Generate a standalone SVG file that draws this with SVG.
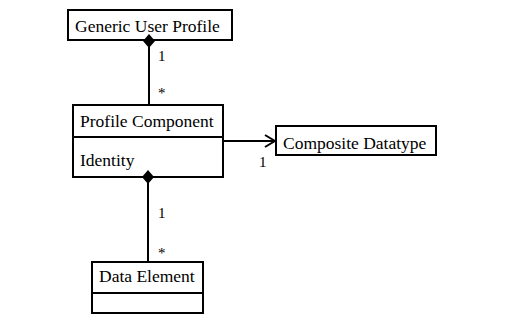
<svg xmlns="http://www.w3.org/2000/svg" width="530" height="327" viewBox="0 0 530 327">
<style>
.box{fill:#fff;stroke:#000;stroke-width:2}
text{font-family:'Liberation Serif','Times New Roman','DejaVu Serif',serif;fill:#000}
.t{font-size:17.5px}
.lbl{font-size:15px}
.ln{stroke:#000;stroke-width:2;fill:none}
.dia{fill:#000;stroke:none}
</style>
<defs>
<marker id="open" markerWidth="12" markerHeight="14" refX="11" refY="7" orient="auto" markerUnits="userSpaceOnUse">
<path d="M1,1 L11,7 L1,13" fill="none" stroke="#000" stroke-width="2"/>
</marker>
</defs>
<rect width="530" height="327" fill="#fff"/>
<g id="generic-user-profile">
<rect class="box" x="68" y="10" width="164" height="30"/>
<text class="t" x="75" y="32" font-family="Liberation Serif, serif">Generic User Profile</text>
</g>
<g id="profile-component">
<rect class="box" x="73" y="105" width="150" height="72"/>
<line class="ln" x1="73" y1="137" x2="223" y2="137"/>
<text class="t" x="80" y="127">Profile Component</text>
<text class="t" x="80" y="166">Identity</text>
</g>
<g id="composite-datatype">
<rect class="box" x="276" y="126" width="160" height="29"/>
<text class="t" x="283" y="149">Composite Datatype</text>
</g>
<g id="data-element">
<rect class="box" x="92" y="262" width="111" height="51"/>
<line class="ln" x1="92" y1="293" x2="203" y2="293"/>
<text class="t" x="99" y="282">Data Element</text>
</g>
<g id="connectors">
<line class="ln" x1="149" y1="41" x2="149" y2="105"/>
<path class="dia" d="M149,34 L155,41 L149,48 L143,41 Z"/>
<text class="lbl" x="158" y="61">1</text>
<text class="lbl" x="158" y="98">*</text>
<line class="ln" x1="223" y1="141" x2="275" y2="141" marker-end="url(#open)"/>
<text class="lbl" x="259" y="167">1</text>
<line class="ln" x1="148" y1="177" x2="148" y2="262"/>
<path class="dia" d="M148,170 L154,177 L148,184 L142,177 Z"/>
<text class="lbl" x="158" y="218">1</text>
<text class="lbl" x="158" y="258">*</text>
</g>
</svg>
